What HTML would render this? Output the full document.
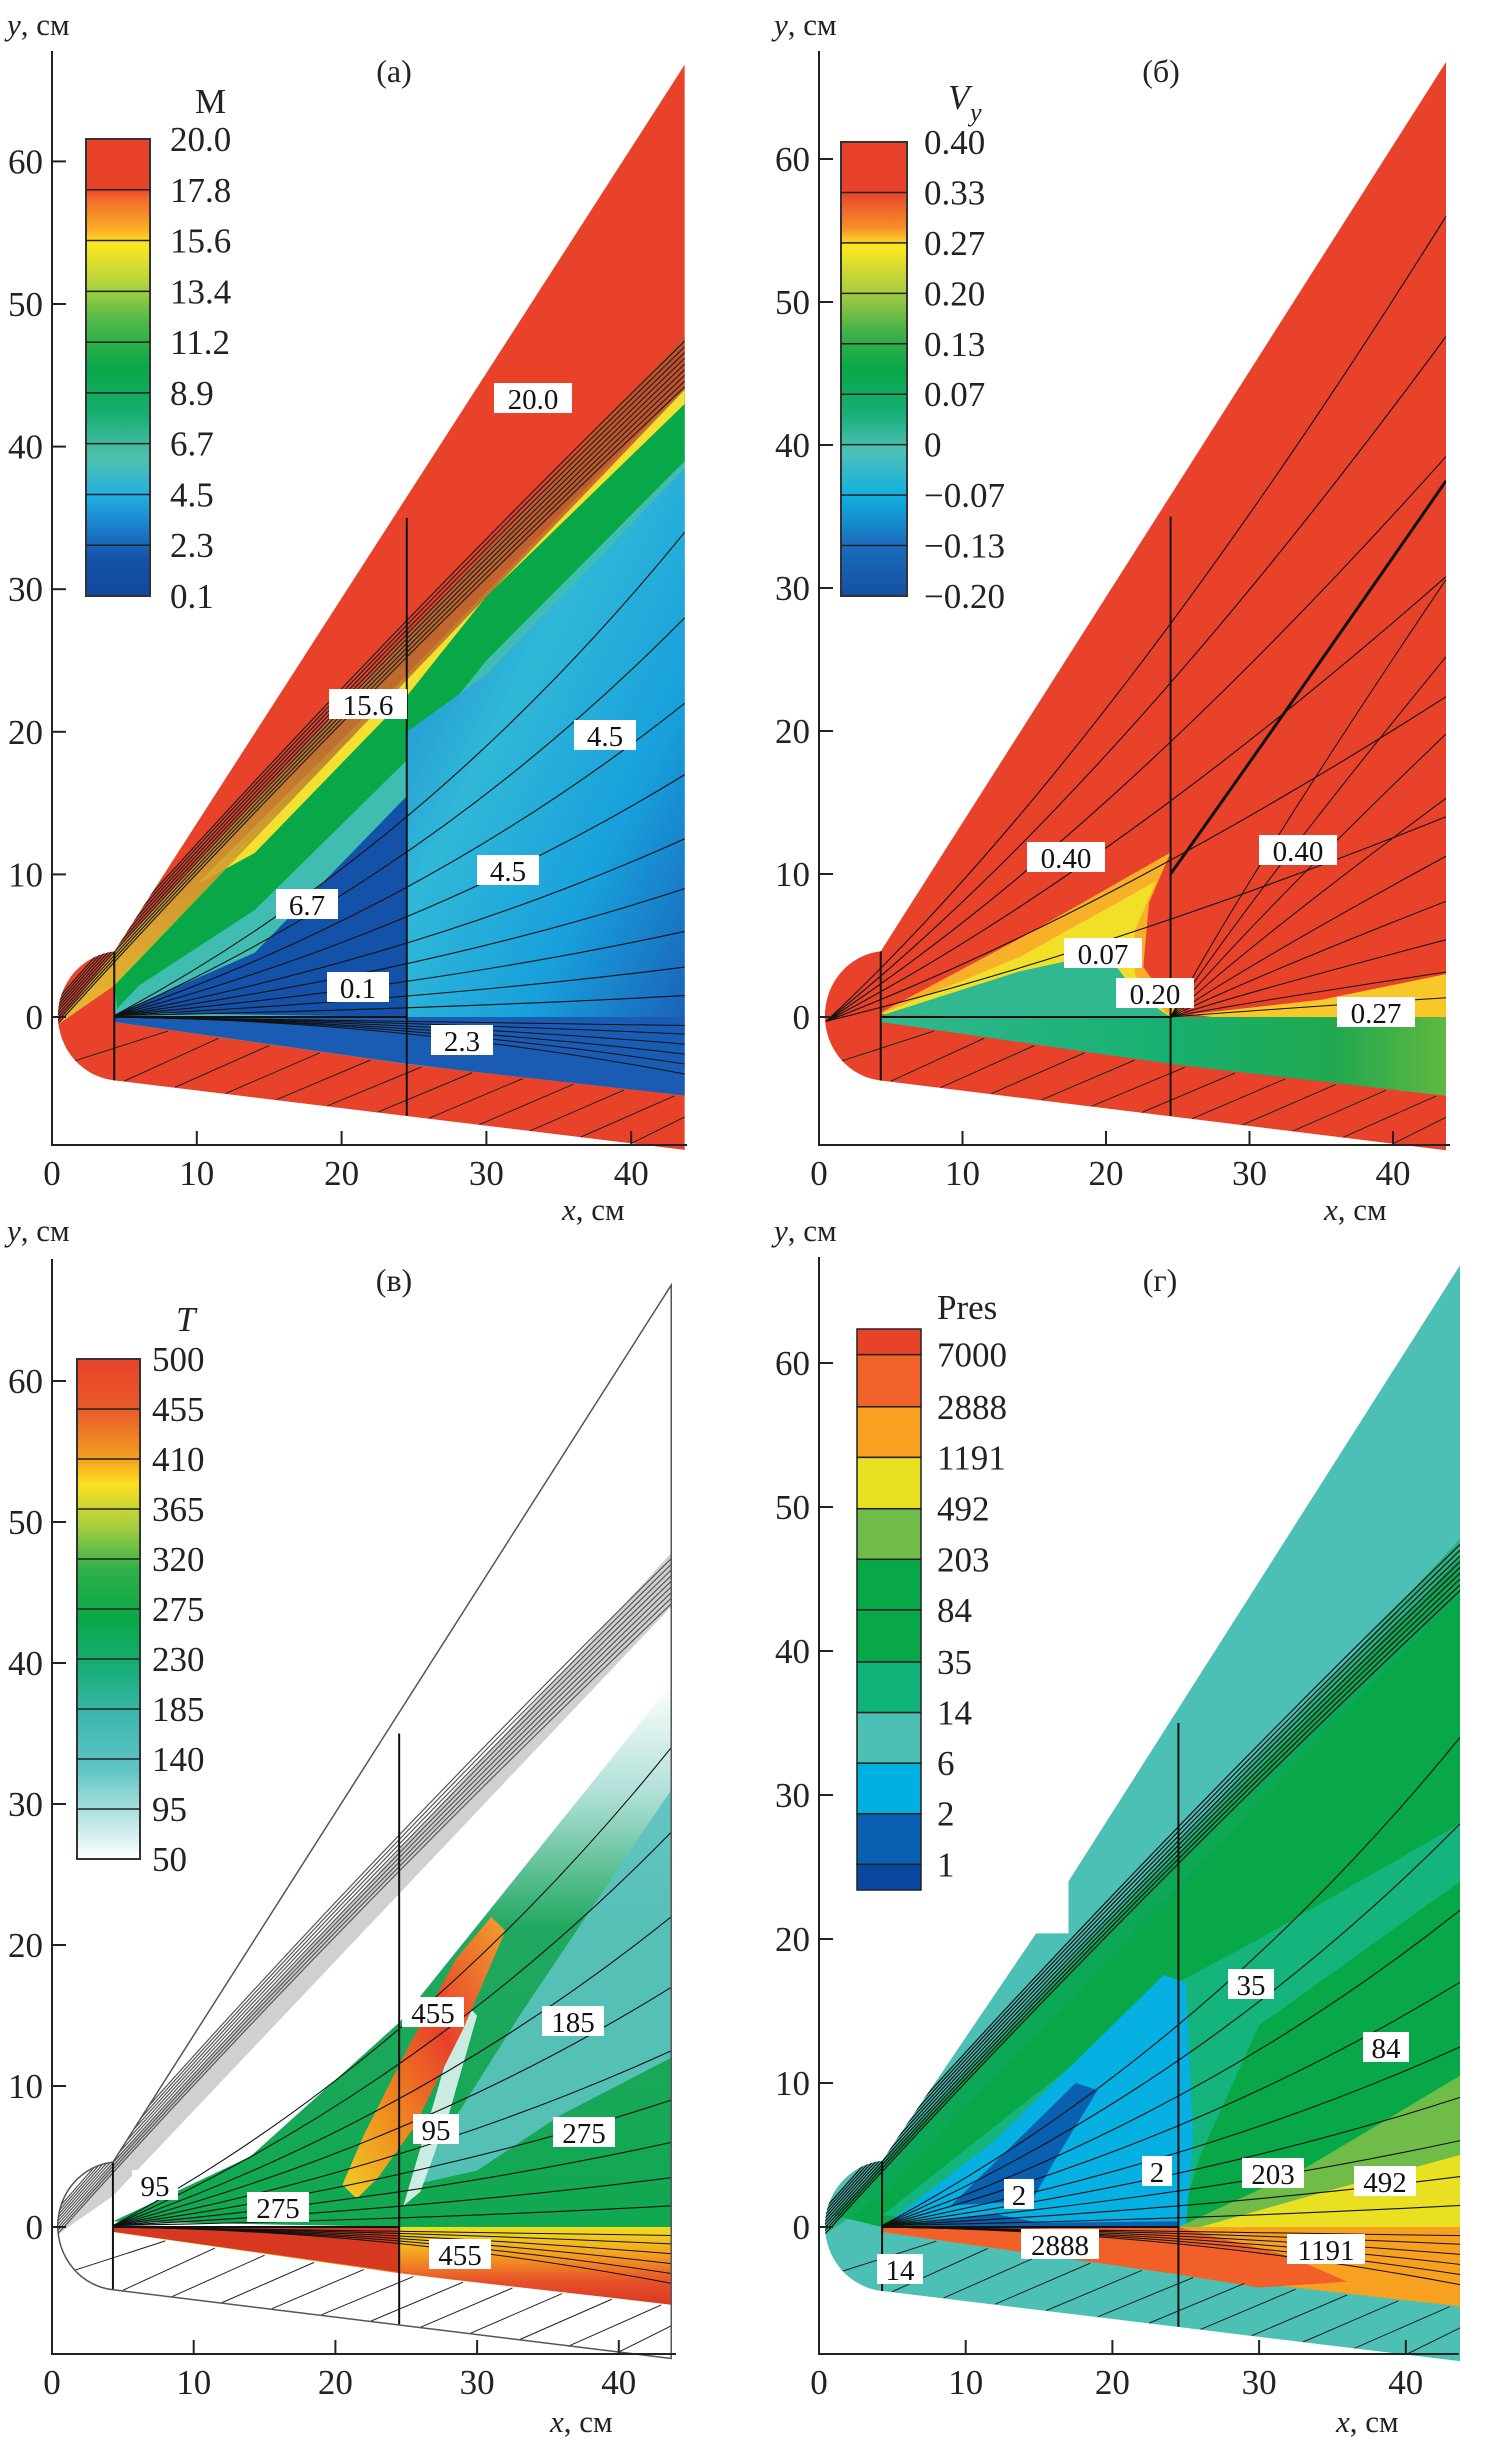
<!DOCTYPE html>
<html><head><meta charset="utf-8">
<style>
html,body{margin:0;padding:0;background:#fff;}
svg{display:block;font-family:"Liberation Serif","DejaVu Serif",serif;}
</style></head>
<body>
<svg id="fig" width="1486" height="2444" viewBox="0 0 1486 2444" xmlns="http://www.w3.org/2000/svg">
<defs id="defs">
<linearGradient id="cbA" x1="0" y1="0" x2="0" y2="1">
<stop offset="0" stop-color="#e8432a"/><stop offset=".11" stop-color="#e8432a"/><stop offset=".13" stop-color="#f26b2a"/><stop offset=".2" stop-color="#fbb026"/><stop offset=".23" stop-color="#fde820"/><stop offset=".31" stop-color="#b8d63c"/><stop offset=".4" stop-color="#50b848"/><stop offset=".5" stop-color="#08a848"/><stop offset=".6" stop-color="#18ae70"/><stop offset=".7" stop-color="#50c0b0"/><stop offset=".78" stop-color="#20b0e0"/><stop offset=".86" stop-color="#1a78c8"/><stop offset=".92" stop-color="#1452a8"/><stop offset="1" stop-color="#1248a0"/></linearGradient>
<linearGradient id="cbB" x1="0" y1="0" x2="0" y2="1">
<stop offset="0" stop-color="#e8432a"/><stop offset=".11" stop-color="#e8432a"/><stop offset=".19" stop-color="#f5902a"/><stop offset=".23" stop-color="#fde820"/><stop offset=".33" stop-color="#a8cc40"/><stop offset=".42" stop-color="#40b048"/><stop offset=".5" stop-color="#08a848"/><stop offset=".6" stop-color="#18ae78"/><stop offset=".68" stop-color="#50c0b8"/><stop offset=".78" stop-color="#10b0e0"/><stop offset=".88" stop-color="#1a70c0"/><stop offset="1" stop-color="#1450a0"/></linearGradient>
<linearGradient id="cbC" x1="0" y1="0" x2="0" y2="1">
<stop offset="0" stop-color="#e8432a"/><stop offset=".1" stop-color="#e85a2a"/><stop offset=".2" stop-color="#f5a020"/><stop offset=".25" stop-color="#fde020"/><stop offset=".34" stop-color="#a0cc40"/><stop offset=".42" stop-color="#30b048"/><stop offset=".52" stop-color="#08a848"/><stop offset=".62" stop-color="#18ae78"/><stop offset=".72" stop-color="#40b8b0"/><stop offset=".82" stop-color="#60c4c4"/><stop offset=".9" stop-color="#a8dede"/><stop offset="1" stop-color="#ffffff"/></linearGradient>
<linearGradient id="blueA" x1="0" y1="0" x2="1" y2="1">
<stop offset="0" stop-color="#1a80cc"/><stop offset=".4" stop-color="#30b8d8"/><stop offset=".7" stop-color="#18a0dc"/><stop offset="1" stop-color="#1a60b8"/></linearGradient>
<linearGradient id="bandA" x1="0" y1="0" x2="0" y2="1">
<stop offset="0" stop-color="#c0502a"/><stop offset=".6" stop-color="#b87830"/><stop offset="1" stop-color="#e8d030"/></linearGradient>
<linearGradient id="lowB" x1="0" y1="0" x2="1" y2="0">
<stop offset="0" stop-color="#30b890"/><stop offset=".5" stop-color="#18b070"/><stop offset=".8" stop-color="#20a850"/><stop offset="1" stop-color="#60b840"/></linearGradient>
<linearGradient id="greenC" x1="0" y1="0" x2="0" y2="1">
<stop offset="0" stop-color="#ffffff"/><stop offset=".2" stop-color="#b0e0d8"/><stop offset=".45" stop-color="#20a860"/><stop offset="1" stop-color="#10a850"/></linearGradient>
<linearGradient id="lowC" x1="0" y1="0" x2="0" y2="1">
<stop offset="0" stop-color="#f0e020"/><stop offset=".35" stop-color="#f5a020"/><stop offset=".7" stop-color="#e8502a"/><stop offset="1" stop-color="#d83a20"/></linearGradient>
<linearGradient id="hotC" x1="0" y1="1" x2="1" y2="0">
<stop offset="0" stop-color="#f0d020"/><stop offset=".3" stop-color="#f08a20"/><stop offset=".6" stop-color="#e8402a"/><stop offset="1" stop-color="#f0a030"/></linearGradient>
</defs>
<g id="root"></g>
</svg>
<script>
const NS='http://www.w3.org/2000/svg';
const root=document.getElementById('root');
const defs=document.getElementById('defs');
function mk(parent,tag,attrs){const e=document.createElementNS(NS,tag);for(const k in attrs)e.setAttribute(k,attrs[k]);parent.appendChild(e);return e;}

// axis tick values
const xTicks=[0,10,20,30,40];
const yTicks=[0,10,20,30,40,50,60];
// colorbar labels
const cbLabelsA=['20.0','17.8','15.6','13.4','11.2','8.9','6.7','4.5','2.3','0.1'];
const cbLabelsB=['0.40','0.33','0.27','0.20','0.13','0.07','0','\u22120.07','\u22120.13','\u22120.20'];
const cbLabelsC=['500','455','410','365','320','275','230','185','140','95','50'];
const cbLabelsD=['7000','2888','1191','492','203','84','35','14','6','2','1'];
const cbColorsD=['#e8432a','#f0622a','#f8a020','#e8e020','#70bc48','#08a848','#08a848','#10b478','#4cc0b4','#00b0e0','#0a60b0','#0a48a0'];

const P={
 a:{ox:52,sx:14.48,oy:1017,sy:14.26,top:51,bot:1145,right:687,tag:'(а)',tagx:394,tagy:82,ylx:7,yly:35,xlx:562,xly:1220,
    cb:{x:86,w:64,y0:139,y1:596,fill:'url(#cbA)',labels:cbLabelsA,lx:170,title:'M',tx:195,ty:113}},
 b:{ox:819,sx:14.35,oy:1017,sy:14.3,top:51,bot:1145,right:1450,tag:'(б)',tagx:1161,tagy:82,ylx:774,yly:35,xlx:1324,xly:1220,
    cb:{x:841,w:66,y0:142,y1:596,fill:'url(#cbB)',labels:cbLabelsB,lx:924,title:'V',tx:948,ty:109}},
 c:{ox:52,sx:14.17,oy:2227,sy:14.1,top:1259,bot:2354,right:676,tag:'(в)',tagx:394,tagy:1291,ylx:7,yly:1241,xlx:550,xly:2432,
    cb:{x:77,w:63,y0:1359,y1:1859,fill:'url(#cbC)',labels:cbLabelsC,lx:152,title:'T',tx:176,ty:1331}},
 d:{ox:819,sx:14.67,oy:2227,sy:14.4,top:1257,bot:2354,right:1459,tag:'(г)',tagx:1160,tagy:1291,ylx:774,yly:1241,xlx:1336,xly:2432,
    cb:{x:857,w:64,y0:1329,y1:1890,labels:cbLabelsD,lx:937,title:'Pres',tx:937,ty:1319}}
};
function X(p,x){return p.ox+x*p.sx;}
function Y(p,y){return p.oy-y*p.sy;}
function poly(p,pts){return 'M'+pts.map(q=>X(p,q[0]).toFixed(1)+','+Y(p,q[1]).toFixed(1)).join(' L')+' Z';}
function yb(x){return -4.4-0.125*(x-4.3);}   // lower body boundary
function ylow(x){return x<24.5? -0.35-0.145*(x-4.3) : -3.3-0.115*(x-24.5);}
function domainPath(p,stepped){
 const rx=4.35*p.sx, ry=4.55*p.sy;
 let top = stepped ? [[4.3,4.6],[14.8,20.4],[17.0,20.4],[17.0,24.0],[43.7,66.8]] : [[4.3,4.6],[43.7,66.8]];
 let d='M'+top.map(q=>X(p,q[0])+','+Y(p,q[1])).join(' L');
 d+=' L'+X(p,43.7)+','+Y(p,yb(43.7))+' L'+X(p,4.3)+','+Y(p,-4.45);
 d+=' A'+rx+' '+ry+' 0 0 1 '+X(p,4.3)+','+Y(p,4.6)+' Z';
 return d;
}
function lowerStrip(p){
 const pts=[[4.3,0],[24.5,0],[43.7,0]];
 for(let x=43.7;x>=4.3;x-=3.9) pts.push([x,ylow(x)]);
 pts.push([4.3,ylow(4.3)]);
 return pts;
}
function curve(p,a,c,b){return 'M'+X(p,a[0])+','+Y(p,a[1])+' Q'+X(p,c[0])+','+Y(p,c[1])+' '+X(p,b[0])+','+Y(p,b[1]);}

const fanEnds=[34,28,22,17,12.5,9,6,3.5,1.5];
const bandEnds=[44.2,44.6,45.0,45.4,45.8,46.2,46.6,47.0,47.4];
const hatchX=[1.5,5,8.5,12,15.5,19,22.5,26,29.5,33,36.5,40];

function clipGroup(g,p,key,stepped){
 const cp=mk(defs,'clipPath',{id:'clip-'+key});
 mk(cp,'path',{d:domainPath(p,stepped)});
 const g2=mk(g,'g',{'clip-path':'url(#clip-'+key+')'});
 
 
 return g2;
}
function drawAxes(p,g,key){
 const ax=mk(g,'path',{d:`M${p.ox},${p.top} L${p.ox},${p.bot} L${p.right},${p.bot}`,fill:'none',stroke:'#222','stroke-width':2});
 
 
 yTicks.forEach(v=>{
  const t=mk(g,'line',{x1:p.ox,x2:p.ox+14,y1:Y(p,v),y2:Y(p,v),stroke:'#222','stroke-width':2});
  
  
  const l=mk(g,'text',{x:p.ox-9,y:Y(p,v)+12,'text-anchor':'end','font-size':35,fill:'#222'});
  
  
  l.textContent=v;
 });
 xTicks.forEach(v=>{
  const t=mk(g,'line',{x1:X(p,v),x2:X(p,v),y1:p.bot,y2:p.bot-14,stroke:'#222','stroke-width':2});
  
  
  const l=mk(g,'text',{x:X(p,v),y:p.bot+40,'text-anchor':'middle','font-size':35,fill:'#222'});
  
  
  l.textContent=v;
 });
 const yl=mk(g,'text',{x:p.ylx,y:p.yly,'font-size':31,fill:'#222'});
 
 
 yl.innerHTML='<tspan font-style="italic">y</tspan>, см';
 const xl=mk(g,'text',{x:p.xlx,y:p.xly,'font-size':31,fill:'#222'});
 
 
 xl.innerHTML='<tspan font-style="italic">x</tspan>, см';
 const tg=mk(g,'text',{x:p.tagx,y:p.tagy,'text-anchor':'middle','font-size':32,fill:'#222'});
 
 
 tg.textContent=p.tag;
}
function drawColorbar(p,g,key){
 const c=p.cb,n=c.labels.length;
 if(key==='d'){
  const h=(c.y1-c.y0);
  const edges=[0,33,100,165,231,296,361,428,493,558,623,688,721];
  const scale=h/721;
  cbColorsD.forEach((col,i)=>{
   const r=mk(g,'rect',{x:c.x,y:c.y0+edges[i]*scale,width:c.w,height:(edges[i+1]-edges[i])*scale,fill:col,stroke:'#222','stroke-width':1.5});
   
   
  });
  c.labels.forEach((lab,i)=>{
   const yy=c.y0+edges[i+1]*scale;
   const t=mk(g,'text',{x:c.lx,y:yy+12,'font-size':35,fill:'#222'});
   
   
   t.textContent=lab;
  });
 } else {
  const r=mk(g,'rect',{x:c.x,y:c.y0,width:c.w,height:c.y1-c.y0,fill:c.fill,stroke:'#333','stroke-width':2});
  
  
  c.labels.forEach((lab,i)=>{
   const yy=c.y0+(c.y1-c.y0)*i/(n-1);
   if(i>0&&i<n-1){
    const ln=mk(g,'line',{x1:c.x,x2:c.x+c.w,y1:yy,y2:yy,stroke:'#222','stroke-width':1.5});
    
    
   }
   const t=mk(g,'text',{x:c.lx,y:yy+12,'font-size':35,fill:'#222'});
   
   
   t.textContent=lab;
  });
 }
 const tt=mk(g,'text',{x:c.tx,y:c.ty,'font-size':35,fill:'#222','font-style':(key==='b'||key==='c')?'italic':'normal'});
 
 
 tt.textContent=c.title;
 if(key==='b'){
  const s=mk(g,'text',{x:c.tx+22,y:c.ty+12,'font-size':26,fill:'#222','font-style':'italic'});
  
  
  s.textContent='y';
 }
}
function fill(g,p,pts,f,name,op){
 const e=mk(g,'path',{d:poly(p,pts),fill:f,'fill-opacity':op||1});
 
 
 return e;
}
function hatch(g,p){
 hatchX.forEach(x0=>{
  const x1=x0+6.5;
  const s=mk(g,'line',{x1:X(p,x0),y1:Y(p,x0<4.3?-2.5-x0*0.4:yb(x0)),x2:X(p,x1),y2:Y(p,ylow(Math.min(x1,43.7))-0.1),stroke:'#222','stroke-width':1});
  
  
 });
}
function bodyLines(g,p){
 const pl=mk(g,'path',{d:`M${X(p,4.3)},${Y(p,0)} L${X(p,24.5)},${Y(p,0)} M${X(p,24.5)},${Y(p,35)} L${X(p,24.5)},${Y(p,yb(24.5))} M${X(p,4.3)},${Y(p,4.6)} L${X(p,4.3)},${Y(p,-4.45)}`,fill:'none',stroke:'#111','stroke-width':2});
 
 
}
function structure(g,p,col){
 bandEnds.forEach((ye,i)=>{
  const s=mk(g,'path',{d:curve(p,[0.3,-0.6+i*0.22],[20,21.5+i*0.3],[43.7,ye]),fill:'none',stroke:col,'stroke-width':1.2});
  
  
 });
 fanEnds.forEach((ye,i)=>{
  const s=mk(g,'path',{d:curve(p,[4.3,0.1],[26,ye*0.35],[43.7,ye]),fill:'none',stroke:'#111','stroke-width':1.1});
  
  
 });
 [-0.6,-1.2,-1.9,-2.6,-3.3,-4.0].forEach(ye=>{
  const s=mk(g,'path',{d:curve(p,[4.3,0],[24.5,-0.3],[43.7,ye]),fill:'none',stroke:'#111','stroke-width':1});
  
  
 });
 hatch(g,p);
 bodyLines(g,p);
}
function tag(g,x,y,txt){
 const w=txt.length*16+14;
 const r=mk(g,'rect',{x:x-w/2,y:y-16,width:w,height:30,fill:'#fff'});
 
 
 const t=mk(g,'text',{x:x,y:y+10,'text-anchor':'middle','font-size':29,fill:'#111'});
 
 
 t.textContent=txt;
}
const band=[[0.3,-0.6],[4.3,4.6],[43.7,47.8],[43.7,44.0],[4.3,2.2]];

// ---------- panel a ----------
(function(){
 const p=P.a; const g=mk(root,'g',{});
 
 
 const f=clipGroup(g,p,'a',false);
 const dm=mk(f,'path',{d:domainPath(p,false),fill:'#e8432a'});
 
 
 fill(f,p,[[4.3,2.4],[43.7,44.2],[43.7,-5.5],[24.5,-3.3],[4.3,-0.35]],'#40bcb0','inner-field');
 fill(f,p,[[4.3,2.4],[43.7,44.2],[43.7,39],[30,25],[24.5,18],[14,7.5],[6,2.2],[4.5,0.6]],'#08a848','green-region');
 fill(f,p,[[10,9.3],[24.5,24],[36,36.2],[43.7,44.2],[43.7,43],[30,29.5],[24.5,22.5],[14,11.5]],'#f4e030','yellow-strip');
 fill(f,p,[[24.5,20],[30,24],[43.7,38.5],[43.7,-1],[24.5,0]],'url(#blueA)','right-blue');
 fill(f,p,[[4.6,0.3],[14,4.5],[24.5,15.5],[24.5,0]],'#1452aa','dead-zone');
 fill(f,p,lowerStrip(p),'#1a5cb4','lower-strip');
 fill(f,p,band,'url(#bandA)','shock-band',0.85);
 structure(f,p,'#222');
 drawAxes(p,g,'a'); drawColorbar(p,g,'a');
 [[533,399,'20.0'],[368,705,'15.6'],[605,736,'4.5'],[508,871,'4.5'],[307,905,'6.7'],[358,988,'0.1'],[462,1041,'2.3']].forEach(q=>tag(g,q[0],q[1],q[2]));
})();
// ---------- panel b ----------
(function(){
 const p=P.b; const g=mk(root,'g',{});
 
 
 const f=clipGroup(g,p,'b',false);
 const dm=mk(f,'path',{d:domainPath(p,false),fill:'#e8432a'});
 
 
 fill(f,p,[[4.3,0.3],[14,5.5],[24.5,11.5],[23,8],[22.6,3.5],[24,1.5],[25.5,0.3],[24.5,0]],'#f8b028','halo-orange');
 fill(f,p,[[4.3,0.2],[14,4.2],[23.5,9.5],[22,6],[22,3],[23.5,1],[24.5,0]],'#f0e028','halo-yellow');
 fill(f,p,[[4.3,0.1],[14,3.2],[20,4.5],[21.5,2.5],[23,1],[24.5,0]],'#30b890','wedge-green');
 fill(f,p,[[26,0.2],[35,1.2],[43.7,3.0],[43.7,-1],[30,-0.4]],'#f8c828','right-yellow');
 fill(f,p,lowerStrip(p),'url(#lowB)','lower-strip');
 [10,16,22,28,34,40].forEach(o=>{
  const s=mk(f,'path',{d:curve(p,[0.5,-0.3],[20,o*0.45],[43.7,o+0.4*o]),fill:'none',stroke:'#111','stroke-width':1.1});
  
  
 });
 const sl=mk(f,'path',{d:curve(p,[24.5,10],[33,22],[43.7,37.5]),fill:'none',stroke:'#111','stroke-width':3});
 
 
 fanEnds.forEach((ye,i)=>{
  const s=mk(f,'path',{d:curve(p,[24.5,0],[30,ye*0.3],[43.7,ye*0.9]),fill:'none',stroke:'#111','stroke-width':1});
  
  
 });
 hatch(f,p);
 bodyLines(f,p);
 drawAxes(p,g,'b'); drawColorbar(p,g,'b');
 [[1066,858,'0.40'],[1298,851,'0.40'],[1103,954,'0.07'],[1155,994,'0.20'],[1376,1013,'0.27']].forEach(q=>tag(g,q[0],q[1],q[2]));
})();
// ---------- panel c ----------
(function(){
 const p=P.c; const g=mk(root,'g',{});
 
 
 const f=clipGroup(g,p,'c',false);
 fill(f,p,[[4.3,0.4],[14,5],[24.5,14.5],[43.7,38.5],[43.7,0],[24.5,0]],'url(#greenC)','inner-field');
 fill(f,p,[[25.5,3],[33,15],[43.7,31],[43.7,12],[36,8],[30,4]],'#5cc2c0','teal-region',0.9);
 fill(f,p,[[24.8,1.5],[27,9],[29,16],[30,15],[28,8],[26,2.5]],'#dff2f0','cool-core',0.9);
 fill(f,p,[[20.5,3],[22,6.5],[25,12.5],[28.5,19],[31,22],[32,21],[29,14],[25.5,7],[23,3.5],[21.5,2]],'url(#hotC)','hot-ridge');
 fill(f,p,lowerStrip(p),'url(#lowC)','lower-strip');
 fill(f,p,[[4.3,0],[24.5,0],[24.5,-3.2],[4.3,-0.35]],'#d63820','lower-strip-hot');
 fill(f,p,band,'#777','shock-band',0.35);
 structure(f,p,'#555');
 const dm=mk(g,'path',{d:domainPath(p,false),fill:'none',stroke:'#555','stroke-width':1.5});
 
 
 drawAxes(p,g,'c'); drawColorbar(p,g,'c');
 [[433,2013,'455'],[573,2022,'185'],[436,2130,'95'],[584,2133,'275'],[155,2186,'95'],[278,2208,'275'],[460,2255,'455']].forEach(q=>tag(g,q[0],q[1],q[2]));
})();
// ---------- panel d ----------
(function(){
 const p=P.d; const g=mk(root,'g',{});
 
 
 const f=clipGroup(g,p,'d',true);
 const dm=mk(f,'path',{d:domainPath(p,true),fill:'#4cc0b4'});
 
 
 fill(f,p,[[1,0.8],[43.7,46.5],[43.7,0],[4.3,0]],'#08a848','green-field');
 fill(f,p,[[4.3,0.8],[12,7],[24.5,17],[30,20],[43.7,28],[43.7,24],[30,14],[26,5],[24.5,0]],'#14b47c','mid-green');
 fill(f,p,[[4.8,0.4],[12,6],[20,14],[23.5,17.5],[25,17],[25.5,6],[25,0]],'#06b0e2','blue-region');
 fill(f,p,[[9,1.5],[13,5.5],[17.5,10],[19,9.5],[16,4.5],[14.5,1.8]],'#0a60b0','dark-blue-patch');
 fill(f,p,[[5,0.1],[12,0.9],[15,0.3],[24.5,0.4],[24.5,0]],'#0a60b0','dark-blue-strip');
 fill(f,p,[[24.5,0],[33,4],[43.7,10.5],[43.7,0]],'#70bc48','light-green');
 fill(f,p,[[26,0],[35,2.6],[43.7,5],[43.7,0]],'#e8e020','yellow-region');
 fill(f,p,lowerStrip(p),'#f8a020','lower-strip');
 fill(f,p,[[4.3,0],[24.5,0],[32,-2],[36,-3.8],[30,-4.2],[24.5,-3.3],[4.3,-0.35]],'#f06028','lower-strip-hot');
 fill(f,p,band,'#10a860','shock-band',0.6);
 structure(f,p,'#111');
 drawAxes(p,g,'d'); drawColorbar(p,g,'d');
 [[1251,1985,'35'],[1386,2048,'84'],[1157,2172,'2'],[1019,2195,'2'],[1273,2174,'203'],[1385,2182,'492'],[1060,2245,'2888'],[1326,2250,'1191'],[900,2270,'14']].forEach(q=>tag(g,q[0],q[1],q[2]));
})();
</script>
</body></html>
